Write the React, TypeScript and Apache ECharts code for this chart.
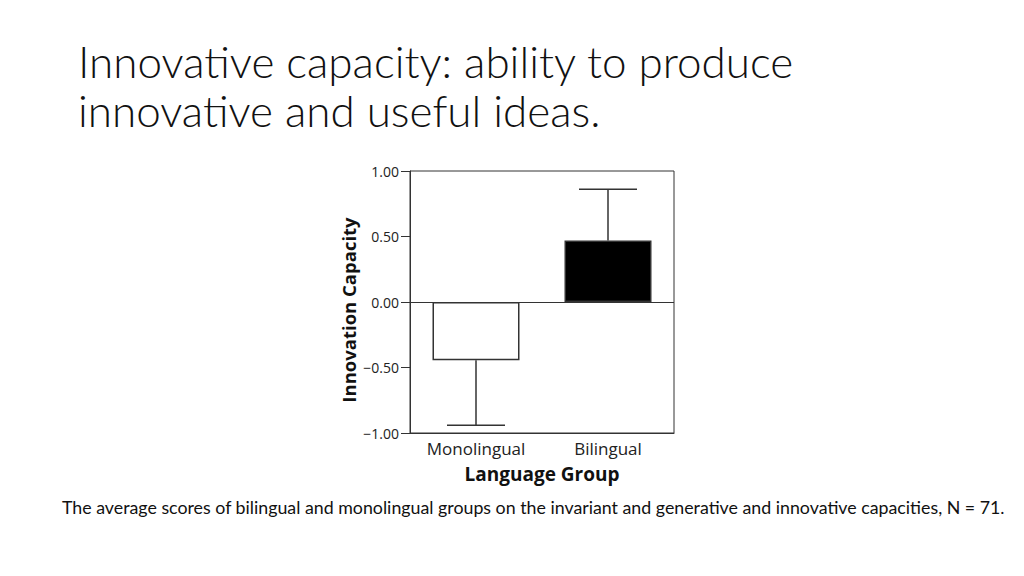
import React, { useEffect, useRef } from 'react';
import * as echarts from 'echarts';

// chart data
const categories = ['Monolingual', 'Bilingual'];
const means = [-0.445, 0.47];
const errorEnds = [-0.94, 0.86];
const barColors = ['#ffffff', '#000000'];
const yTicks = [-1, -0.5, 0, 0.5, 1];

const titleLines = ['Innovative capacity: ability to produce', 'innovative and useful ideas.'];
const caption = 'The average scores of bilingual and monolingual groups on the invariant and generative and innovative capacities, N = 71.';

const App: React.FC = () => {
    const chartRef: any = useRef();

    useEffect(() => {
        const chart = echarts.init(chartRef.current, undefined, { renderer: 'svg' });
        const option = {
            animation: false,
            backgroundColor: '#ffffff',
            title: [
                {
                    text: titleLines.join('\n'),
                    left: 73,
                    top: 31,
                    textStyle: { fontFamily: 'Lato', fontWeight: 300, fontSize: 44, lineHeight: 49, color: '#111' }
                },
                {
                    text: caption,
                    left: 57,
                    top: 491,
                    textStyle: { fontFamily: 'Lato', fontWeight: 400, fontSize: 17.8, lineHeight: 22, color: '#111' }
                }
            ],
            grid: {
                left: 410, top: 171, width: 264, height: 262,
                show: true, borderColor: '#333', borderWidth: 1, backgroundColor: 'transparent'
            },
            xAxis: {
                type: 'category',
                data: categories,
                name: 'Language Group',
                nameLocation: 'middle',
                nameGap: 31,
                nameTextStyle: { fontFamily: 'Open Sans', fontWeight: 'bold', fontSize: 19, color: '#111' },
                axisLine: { onZero: false, lineStyle: { color: '#333' } },
                axisTick: { show: false },
                axisLabel: { fontFamily: 'Open Sans', fontSize: 17, color: '#222', margin: 7 }
            },
            yAxis: {
                type: 'value',
                min: yTicks[0],
                max: yTicks[yTicks.length - 1],
                interval: 0.5,
                name: 'Innovation Capacity',
                nameLocation: 'middle',
                nameGap: 52,
                nameTextStyle: { fontFamily: 'Open Sans', fontWeight: 'bold', fontSize: 18.5, color: '#111', padding: [0, 16, 0, 0] },
                axisLine: { show: true, lineStyle: { color: '#333' } },
                axisTick: { show: true, length: 9, lineStyle: { color: '#333' } },
                splitLine: { show: false },
                axisLabel: {
                    fontFamily: 'Open Sans', fontSize: 14, color: '#222', margin: 11,
                    formatter: (v: number) => (v < 0 ? '\u2212' : '') + Math.abs(v).toFixed(2)
                }
            },
            series: [
                {
                    type: 'bar',
                    barWidth: 87,
                    data: means.map((v, i) => ({
                        value: v,
                        itemStyle: { color: barColors[i], borderColor: '#333', borderWidth: 1.5 }
                    })),
                    markLine: {
                        silent: true,
                        symbol: 'none',
                        label: { show: false },
                        lineStyle: { color: '#333', width: 1, type: 'solid' },
                        data: [{ yAxis: 0 }]
                    }
                },
                {
                    type: 'custom',
                    data: means.map((m, i) => [i, m, errorEnds[i]]),
                    renderItem: (params: any, api: any) => {
                        const start = api.coord([api.value(0), api.value(1)]);
                        const end = api.coord([api.value(0), api.value(2)]);
                        const half = 29;
                        const style = { stroke: '#333', lineWidth: 1.5 };
                        return {
                            type: 'group',
                            children: [
                                { type: 'line', shape: { x1: start[0], y1: start[1], x2: end[0], y2: end[1] }, style },
                                { type: 'line', shape: { x1: end[0] - half, y1: end[1], x2: end[0] + half, y2: end[1] }, style }
                            ]
                        };
                    },
                    z: 3
                }
            ]
        };
        chart.setOption(option);
        return () => {
            chart.dispose();
        };
    }, []);

    return <div ref={chartRef} style={{ position: 'fixed', left: 0, top: 0, width: 1024, height: 576 }}></div>;
};

export default App;
